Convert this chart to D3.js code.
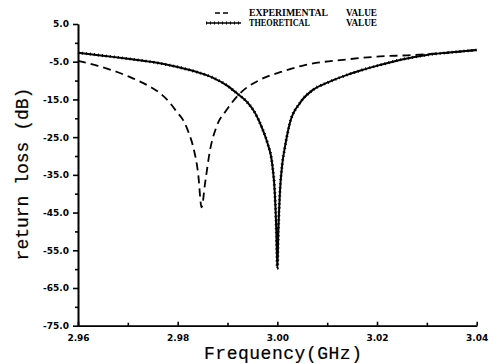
<!DOCTYPE html>
<html>
<head>
<meta charset="utf-8">
<script src="https://cdn.jsdelivr.net/npm/d3@7"></script>
<style>
  body { margin: 0; background: #fff; }
  svg { display: block; }
</style>
</head>
<body>
<div id="chart"></div>
<script>
// experimental (dashed) curve
var expFreq = [2.960, 2.964, 2.968, 2.971, 2.9744, 2.9765, 2.9785, 2.980, 2.9811, 2.9822, 2.9831,
               2.9841, 2.9848, 2.9855, 2.9865, 2.9878, 2.9898, 2.9925, 2.9965, 3.001, 3.0055,
               3.0139, 3.0206, 3.026, 3.030, 3.035, 3.040];
var expLoss = [-4.8, -6.1, -7.8, -9.4, -11.6, -13.4, -16.0, -18.6, -20.5, -23.8, -27.5,
               -34.6, -43.6, -37.2, -28.4, -22.2, -17.8, -13.4, -9.8, -7.6, -5.9,
               -4.4, -3.6, -3.3, -3.0, -2.5, -1.9];

// theoretical (solid) curve
var theoFreq = [2.960, 2.965, 2.970, 2.975, 2.980, 2.984, 2.987, 2.990, 2.992, 2.994, 2.9955,
                2.997, 2.998, 2.999, 2.9995, 2.9998, 3.000, 3.0002, 3.0005, 3.001, 3.0015,
                3.0025, 3.0045, 3.007, 3.0105, 3.014, 3.017, 3.0205, 3.025, 3.030, 3.035, 3.040];
var theoLoss = [-2.6, -3.4, -4.2, -5.1, -6.4, -7.8, -9.2, -11.4, -13.5, -15.8, -18.5,
                -22.8, -26.5, -32.5, -40, -50, -59.8, -50, -40, -32, -27.8,
                -21.3, -16.0, -12.6, -10.3, -8.5, -7.2, -5.9, -4.4, -3.2, -2.5, -1.9];

var xMajor = [2.96, 2.98, 3.00, 3.02, 3.04];
var xMinor = [2.97, 2.99, 3.01, 3.03];
var yMajor = [5, -5, -15, -25, -35, -45, -55, -65, -75];
var yMinor = [0, -10, -20, -30, -40, -50, -60, -70];

var legendLabels = [["EXPERIMENTAL", "VALUE"], ["THEORETICAL", "VALUE"]];

var W = 494, H = 363;
var svg = d3.select("#chart").append("svg").attr("width", W).attr("height", H);

var x = d3.scaleLinear().domain([2.96, 3.04]).range([78, 476.7]);
var y = d3.scaleLinear().domain([-75, 5]).range([325.7, 24]);

// axes
var tickFont = function (g) {
  g.selectAll("text")
    .attr("font-family", "DejaVu Sans, sans-serif")
    .attr("font-weight", "bold")
    .attr("font-size", 9)
    .attr("fill", "#000");
  g.selectAll("line, path").attr("stroke", "#000").attr("stroke-width", 1.6);
};

svg.append("g")
  .attr("transform", "translate(78,0)")
  .call(d3.axisLeft(y).tickValues(yMajor).tickSize(5).tickSizeOuter(0).tickPadding(4)
        .tickFormat(function (d) { return d.toFixed(1); }))
  .call(tickFont);
svg.append("g")
  .attr("transform", "translate(78,0)")
  .call(d3.axisLeft(y).tickValues(yMinor).tickSize(3).tickSizeOuter(0).tickFormat(""))
  .call(tickFont);

svg.append("g")
  .attr("transform", "translate(0,325.7)")
  .call(d3.axisBottom(x).tickValues(xMajor).tickSize(-4).tickSizeOuter(0).tickPadding(8.5)
        .tickFormat(function (d) { return d.toFixed(2); }))
  .call(tickFont);
svg.append("g")
  .attr("transform", "translate(0,325.7)")
  .call(d3.axisBottom(x).tickValues(xMinor).tickSize(-3).tickSizeOuter(0).tickFormat(""))
  .call(tickFont);

// axis titles
svg.append("text")
  .attr("transform", "translate(28,174) rotate(-90)")
  .attr("text-anchor", "middle")
  .attr("font-family", "Liberation Mono, monospace")
  .attr("font-size", 18)
  .attr("stroke", "#000").attr("stroke-width", 0.2)
  .text("return loss (dB)");

svg.append("text")
  .attr("x", 204).attr("y", 358.5)
  .attr("font-family", "Liberation Mono, monospace")
  .attr("font-size", 18)
  .attr("stroke", "#000").attr("stroke-width", 0.2)
  .attr("textLength", 158).attr("lengthAdjust", "spacing")
  .text("Frequency(GHz)");

// curves
var line = d3.line()
  .x(function (d) { return x(d[0]); })
  .y(function (d) { return y(d[1]); })
  .curve(d3.curveMonotoneX);

var expData = d3.zip(expFreq, expLoss);
var theoData = d3.zip(theoFreq, theoLoss);

svg.append("path")
  .attr("d", line(expData))
  .attr("fill", "none").attr("stroke", "#000")
  .attr("stroke-width", 1.8).attr("stroke-dasharray", "8,5");

svg.append("path")
  .attr("d", line(theoData))
  .attr("fill", "none").attr("stroke", "#000").attr("stroke-width", 2);
svg.append("path")
  .attr("d", line(theoData))
  .attr("fill", "none").attr("stroke", "#000")
  .attr("stroke-width", 3).attr("stroke-dasharray", "1,3");

// legend
svg.append("line")
  .attr("x1", 215).attr("x2", 228).attr("y1", 13).attr("y2", 13)
  .attr("stroke", "#000").attr("stroke-width", 1.6).attr("stroke-dasharray", "5,3");
svg.append("line")
  .attr("x1", 206).attr("x2", 241).attr("y1", 23).attr("y2", 23)
  .attr("stroke", "#000").attr("stroke-width", 1.6);
svg.append("line")
  .attr("x1", 206).attr("x2", 241).attr("y1", 23).attr("y2", 23)
  .attr("stroke", "#000").attr("stroke-width", 3).attr("stroke-dasharray", "1,3");

var legWidths = [[79, 31], [61, 31]];
legendLabels.forEach(function (pair, i) {
  var yy = 16 + i * 10;
  svg.append("text")
    .attr("x", 249).attr("y", yy)
    .attr("font-family", "Liberation Serif, serif").attr("font-weight", "bold")
    .attr("font-size", 10)
    .attr("textLength", legWidths[i][0]).attr("lengthAdjust", "spacingAndGlyphs")
    .text(pair[0]);
  svg.append("text")
    .attr("x", 346).attr("y", yy)
    .attr("font-family", "Liberation Serif, serif").attr("font-weight", "bold")
    .attr("font-size", 10)
    .attr("textLength", legWidths[i][1]).attr("lengthAdjust", "spacingAndGlyphs")
    .text(pair[1]);
});
</script>
</body>
</html>
